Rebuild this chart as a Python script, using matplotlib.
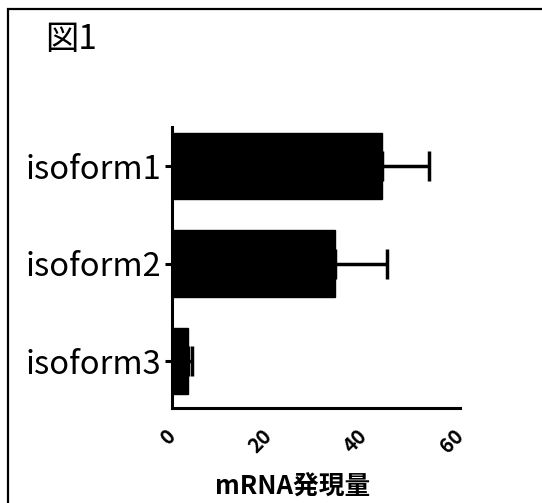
import matplotlib.pyplot as plt
from matplotlib.patches import Rectangle

plt.rcParams['font.family'] = ['Noto Sans CJK JP', 'DejaVu Sans']

isoforms = ["isoform1", "isoform2", "isoform3"]
expression = [43.7, 33.9, 3.3]
errors = [9.9, 10.9, 0.8]
xticks = [0, 20, 40, 60]

fig = plt.figure(figsize=(5.42, 5.03), dpi=100)
ax = fig.add_axes([172 / 542, 95 / 503, 288 / 542, 281 / 503])

pos = range(len(isoforms))
ax.barh(pos, expression, height=0.68, color="black", edgecolor="black",
        xerr=[[0] * len(errors), errors], capsize=10.8,
        error_kw=dict(elinewidth=2.5, capthick=2.5, ecolor="black"))

ax.set_ylim(2.48, -0.4)
ax.set_xlim(0, 60)
ax.set_yticks(list(pos))
ax.set_yticklabels(isoforms, fontsize=23.5)
ax.set_xticks(xticks)
ax.set_xticklabels([str(t) for t in xticks], rotation=45, ha="right",
                   va="center", rotation_mode="anchor",
                   fontsize=14.5, fontweight="bold")
ax.tick_params(axis="y", length=5, width=2.2, pad=3)
ax.tick_params(axis="x", length=0, pad=18)

for s in ["top", "right"]:
    ax.spines[s].set_visible(False)
for s in ["left", "bottom"]:
    ax.spines[s].set_linewidth(2.2)

ax.set_xlabel("mRNA発現量", fontsize=18.5, fontweight="bold")
ax.xaxis.set_label_coords(0.42, -0.235)

fig.text(45 / 542, 1 - 40 / 503, "図1", fontsize=24, va="center", ha="left")

fig.patches.append(Rectangle((8 / 542, -0.1), 1.2, 1 - 9 / 503 + 0.1,
                             transform=fig.transFigure, fill=False,
                             edgecolor="black", linewidth=1.6))

fig.savefig("out.png", dpi=100)
